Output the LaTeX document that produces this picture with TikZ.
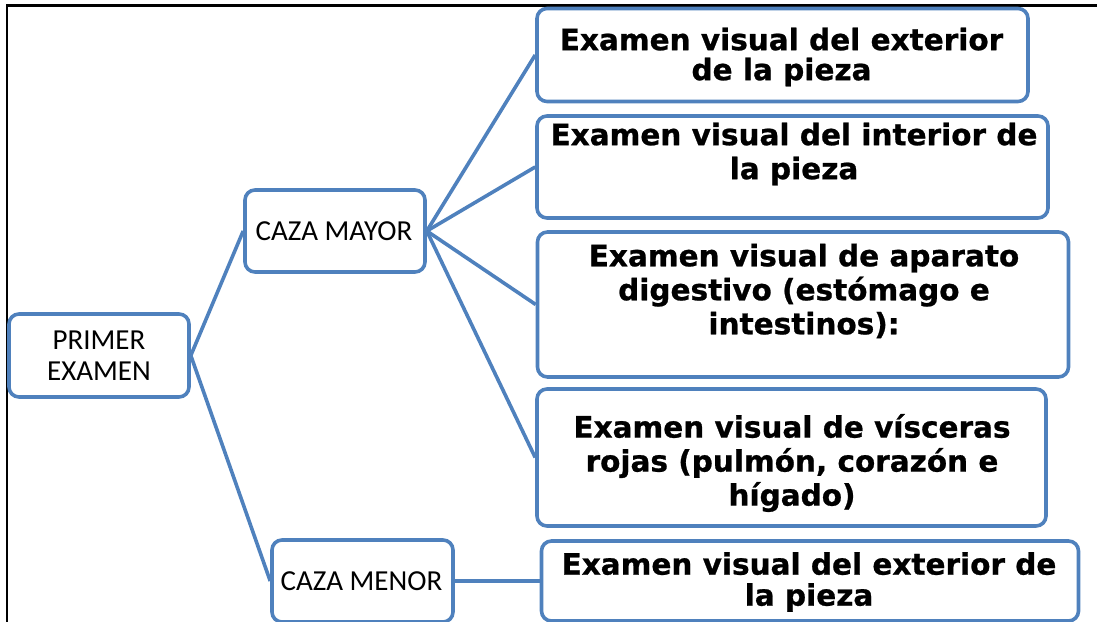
\documentclass[tikz,border=0pt]{standalone}
\usepackage{fontspec}
\newfontfamily\vfont{DejaVu Sans}[BoldFeatures={FakeBold=0.8}]
\newfontfamily\cfont{Carlito}
\definecolor{boxblue}{RGB}{79,129,189}
\begin{document}
\begin{tikzpicture}[x=1pt,y=-1pt,
  box/.style={draw=boxblue, line width=3.6pt, rounded corners=10pt, fill=white, inner sep=0pt},
  smalltxt/.style={font=\cfont\fontsize{29}{31}\selectfont, align=center, text=black, inner sep=0pt},
  bigtxt/.style={font=\vfont\bfseries\fontsize{29.5}{34}\selectfont, align=center, text=black, inner sep=0pt},
  link/.style={draw=boxblue, line width=3.6pt}]
\useasboundingbox (0,0) rectangle (1097,621);
\clip (0,0) rectangle (1097,621);
% frame
\draw[line width=2.6pt] (7,640) -- (7,5.5) -- (1110,5.5);
% boxes
\node[box, minimum width=180pt, minimum height=83pt] (pe) at (99,355.5) {};
\node[box, minimum width=180pt, minimum height=82pt] (cma) at (335,231) {};
\node[box, minimum width=181pt, minimum height=82pt] (cme) at (362.5,581) {};
\node[box, minimum width=491pt, minimum height=93pt] (b1) at (782.5,55) {};
\node[box, minimum width=511pt, minimum height=102pt] (b2) at (792.5,167) {};
\node[box, minimum width=531pt, minimum height=145pt] (b3) at (803,304.5) {};
\node[box, minimum width=509pt, minimum height=137pt] (b4) at (791.5,457.5) {};
\node[box, minimum width=537pt, minimum height=80pt] (b5) at (810,581) {};
% texts
\node[smalltxt] (pet) at (99,356) {PRIMER\\EXAMEN};
\node[smalltxt] (cmat) at (334,231) {CAZA MAYOR};
\node[smalltxt] (cmet) at (361.5,581) {CAZA MENOR};
\node[bigtxt] (b1t) at (781.5,57) {Examen visual del exterior\\[-4pt]de la pieza};
\node[bigtxt] (b2t) at (794,154) {Examen visual del interior de\\la pieza};
\node[bigtxt] (b3t) at (804,291) {Examen visual de aparato\\digestivo (estómago e\\intestinos):};
\node[bigtxt] (b4t) at (792,463) {Examen visual de vísceras\\rojas (pulmón, corazón e\\hígado)};
\node[bigtxt] (b5t) at (809,582) {Examen visual del exterior de\\[-3pt]la pieza};
% connectors
\draw[link] (pe.east) -- (cma.west);
\draw[link] (pe.east) -- (cme.west);
\draw[link] (cma.east) -- (b1.west);
\draw[link] (cma.east) -- (b2.west);
\draw[link] (cma.east) -- (b3.west);
\draw[link] (cma.east) -- (b4.west);
\draw[link] (cme.east) -- (b5.west);
\end{tikzpicture}
\end{document}
